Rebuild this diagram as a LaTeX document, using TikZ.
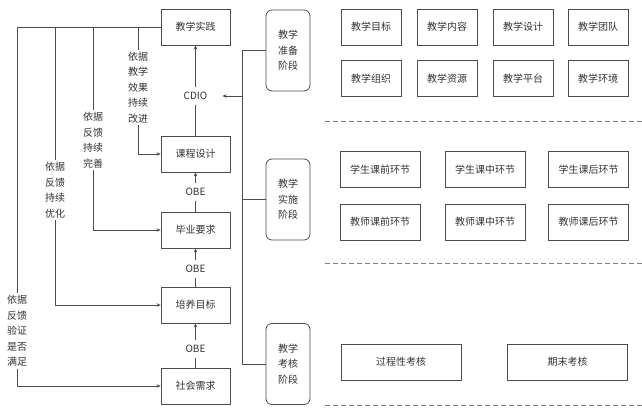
\documentclass[tikz,border=0pt]{standalone}
\usepackage{fontspec}
\setmainfont{Noto Sans CJK SC}
\usetikzlibrary{arrows.meta}
\begin{document}
\begin{tikzpicture}[x=1pt,y=-1pt,font=\fontsize{10}{15.5}\selectfont]
\tikzstyle{box}=[draw=black!70,line width=0.8pt,minimum width=69pt,minimum height=36pt,inner sep=0pt,text=black!80];
\tikzstyle{stage}=[draw=black!70,line width=0.8pt,rounded corners=6pt,minimum width=44pt,minimum height=81pt,align=center,text=black!80];
\tikzstyle{itema}=[draw=black!70,line width=0.8pt,minimum width=60pt,minimum height=36pt,text=black!80];
\tikzstyle{itemb}=[itema,minimum width=80pt];
\tikzstyle{itemc}=[itema,minimum width=120pt];
\tikzstyle{lab}=[align=center,inner sep=2pt,text=black!80];
\tikzstyle{tag}=[inner sep=5pt,text=black!80];
\tikzstyle{link}=[black!70,line width=0.8pt];
\tikzstyle{arr}=[-{Stealth[length=4pt,width=3.5pt]},black!70,line width=0.8pt];
\tikzstyle{divider}=[black!50,line width=0.8pt,dash pattern=on 5pt off 3pt];
\useasboundingbox (0,0) rectangle (642,409);

\node [box] (v1) at (195.5,27) {教学实践};
\node [box] (v2) at (195.5,154) {课程设计};
\node [box] (v3) at (195.5,230) {毕业要求};
\node [box] (v4) at (195.5,305) {培养目标};
\node [box] (v5) at (195.5,386) {社会需求};

\node [tag] (m1) at (195.5,96) {CDIO};
\node [tag] (m2) at (195.5,192) {OBE};
\node [tag] (m3) at (195.5,269) {OBE};
\node [tag] (m4) at (195.5,349) {OBE};
\draw [link] (v2) -- (m1);
\draw [arr] (m1) -- (v1);
\draw [link] (v3) -- (m2);
\draw [arr] (m2) -- (v2);
\draw [link] (v4) -- (m3);
\draw [arr] (m3) -- (v3);
\draw [link] (v5) -- (m4);
\draw [arr] (m4) -- (v4);

%%

\coordinate (t1) at (138,27);
\coordinate (t2) at (93,27);
\coordinate (t3) at (55,27);
\coordinate (t4) at (17,27);
\draw [link] (v1.west) -- (t4);

\node [lab] (f1) at (138,87.5) {依据\\教学\\效果\\持续\\改进};
\draw [link] (t1) -- (f1);
\draw [arr] (f1) |- (v2);
\node [lab] (f2) at (93,140) {依据\\反馈\\持续\\完善};
\draw [link] (t2) -- (f2);
\draw [arr] (f2) |- (v3);
\node [lab] (f3) at (55,190) {依据\\反馈\\持续\\优化};
\draw [link] (t3) -- (f3);
\draw [arr] (f3) |- (v4);
\node [lab] (f4) at (17,331) {依据\\反馈\\验证\\是否\\满足};
\draw [link] (t4) -- (f4);
\draw [arr] (f4) |- (v5);

%%

\node [stage] (s1) at (288,50.5) {教学\\准备\\阶段};
\node [stage] (s2) at (288,199.5) {教学\\实施\\阶段};
\node [stage] (s3) at (288,364) {教学\\考核\\阶段};
\coordinate (b1) at (242,50.5);
\coordinate (b3) at (242,364);
\draw [link] (s1.west) -- (b1) -- (b3) -- (s3.west);
\draw [link] (s2.west) -- (s2.west -| b1);
\draw [arr] (m1 -| b1) -- ([xshift=10pt]m1.east);

%%

\node [itema] (a1) at (371,27) {教学目标};
\node [itema] (a2) at (447,27) {教学内容};
\node [itema] (a3) at (523,27) {教学设计};
\node [itema] (a4) at (598,27) {教学团队};
\node [itema] (a5) at (371,78.5) {教学组织};
\node [itema] (a6) at (447,78.5) {教学资源};
\node [itema] (a7) at (523,78.5) {教学平台};
\node [itema] (a8) at (598,78.5) {教学环境};
\draw [divider] (325,121) -- (642,121);

\node [itemb] (c1) at (380,169.5) {学生课前环节};
\node [itemb] (c2) at (485,169.5) {学生课中环节};
\node [itemb] (c3) at (588.5,169.5) {学生课后环节};
\node [itemb] (c4) at (380,222) {教师课前环节};
\node [itemb] (c5) at (485,222) {教师课中环节};
\node [itemb] (c6) at (588.5,222) {教师课后环节};
\draw [divider] (325,263) -- (642,263);

\node [itemc] (e1) at (401,362) {过程性考核};
\node [itemc] (e2) at (567.5,362) {期末考核};
\draw [divider] (325,405) -- (642,405);
\end{tikzpicture}
\end{document}
